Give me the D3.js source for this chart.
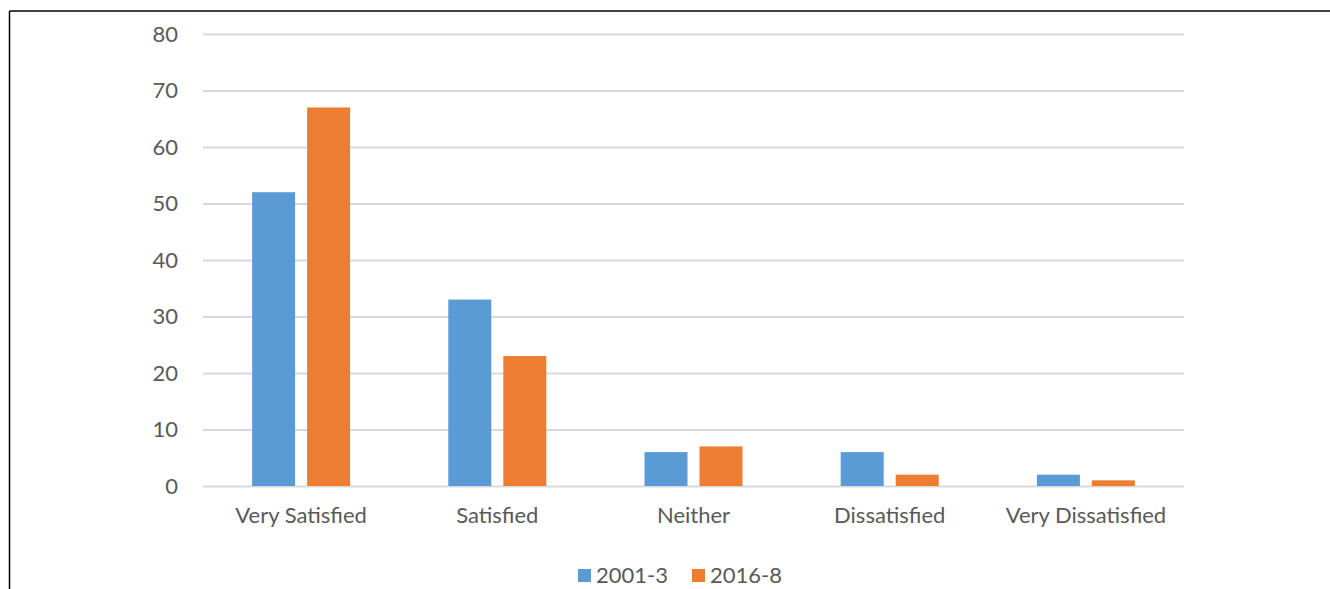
<!DOCTYPE html>
<html>
<head>
<meta charset="utf-8">
<script src="https://cdn.jsdelivr.net/npm/d3@7"></script>
<style>
  html, body { margin: 0; padding: 0; background: #fff; }
  svg { display: block; }
  text { font-family: Lato, "Open Sans", sans-serif; fill: #595959; }
</style>
</head>
<body>
<svg id="chart" width="1330" height="589"></svg>
<script>
// Satisfaction responses, percent of respondents
const categories = ["Very Satisfied", "Satisfied", "Neither", "Dissatisfied", "Very Dissatisfied"];
const seriesNames = ["2001-3", "2016-8"];
const values2001 = [52, 33, 6, 6, 2];
const values2016 = [67, 23, 7, 2, 1];
const yTicks = [0, 10, 20, 30, 40, 50, 60, 70, 80];
const colors = ["#5B9BD5", "#ED7D31"];

const svg = d3.select("#chart");
const W = 1330, H = 589;
const plot = { left: 203, right: 1184, top: 34, bottom: 486 };
const fontSize = "22px";

// Frame: left and top edges only
svg.append("line").attr("x1", 9.5).attr("x2", W).attr("y1", 11).attr("y2", 11)
  .attr("stroke", "#000").attr("stroke-width", 1.5);
svg.append("line").attr("x1", 9.5).attr("x2", 9.5).attr("y1", 11).attr("y2", H)
  .attr("stroke", "#000").attr("stroke-width", 1.5);

const x = d3.scaleBand().domain(categories).range([plot.left, plot.right]);
const y = d3.scaleLinear().domain([0, 80]).range([plot.bottom, plot.top]);

// Gridlines and y tick labels
const yAxis = d3.axisLeft(y).tickValues(yTicks).tickSize(-(plot.right - plot.left)).tickPadding(25);
const gy = svg.append("g").attr("transform", `translate(${plot.left},0)`).call(yAxis);
gy.select(".domain").remove();
gy.selectAll(".tick line").attr("stroke", "#D9D9D9").attr("stroke-width", 2);
gy.selectAll(".tick text").style("font-size", fontSize).attr("fill", "#595959")
  .style("font-family", "Lato, 'Open Sans', sans-serif");

// Category labels
const xAxis = d3.axisBottom(x).tickSize(0).tickPadding(21);
const gx = svg.append("g").attr("transform", `translate(0,${plot.bottom})`).call(xAxis);
gx.select(".domain").remove();
gx.selectAll(".tick text").style("font-size", fontSize).attr("fill", "#595959")
  .style("font-family", "Lato, 'Open Sans', sans-serif");

// Grouped bars
const barW = 43, gap = 12;
const inner = d3.scaleOrdinal().domain(seriesNames)
  .range([-(gap / 2) - barW, gap / 2]);
const series = [values2001, values2016];
series.forEach((vals, si) => {
  svg.append("g").selectAll("rect")
    .data(vals.map((v, i) => ({ cat: categories[i], v })))
    .join("rect")
    .attr("x", d => x(d.cat) + x.bandwidth() / 2 + inner(seriesNames[si]))
    .attr("width", barW)
    .attr("y", d => y(d.v))
    .attr("height", d => y(0) - y(d.v))
    .attr("fill", colors[si]);
});

// Legend
const legend = svg.append("g");
const legendX = [578, 692];
seriesNames.forEach((name, i) => {
  legend.append("rect").attr("x", legendX[i]).attr("y", 569).attr("width", 13).attr("height", 13)
    .attr("fill", colors[i]);
  legend.append("text").attr("x", legendX[i] + 18).attr("y", 583)
    .style("font-size", fontSize).text(name);
});
</script>
</body>
</html>
